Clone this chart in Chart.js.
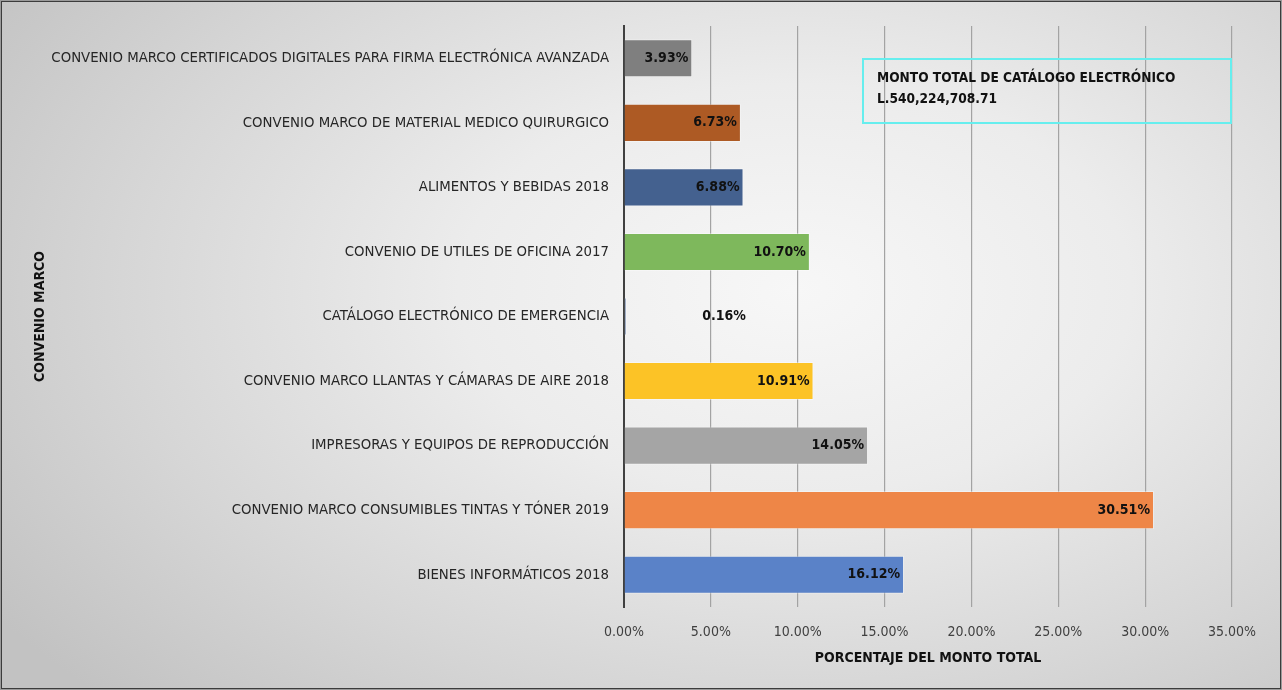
<!DOCTYPE html>
<html>
<head>
<meta charset="utf-8">
<script src="https://cdn.jsdelivr.net/npm/chart.js@4.4.1/dist/chart.umd.min.js"></script>
<style>
  html, body { margin: 0; padding: 0; }
  body { width: 1282px; height: 690px; overflow: hidden; }
  #wrap {
    position: relative; width: 1282px; height: 690px;
    background: radial-gradient(ellipse 75% 85% at 62% 42%, #f7f7f7 0%, #ececec 35%, #d6d6d6 70%, #c2c2c2 100%);
  }
  #frame {
    position: absolute; left: 0; top: 0; width: 1282px; height: 690px; box-sizing: border-box;
    border: 2px solid #3c3c3c; outline: 1px solid #9a9a9a; outline-offset: -1px; pointer-events: none;
  }
  #note {
    position: absolute; left: 862px; top: 58px; width: 370px; height: 66px; box-sizing: border-box;
    border: 2px solid #66eeee; padding: 7px 0 0 13px;
    font-family: "Liberation Sans Narrow", "DejaVu Sans Condensed", sans-serif; font-weight: bold;
    font-size: 13.6px; line-height: 21px; color: #111;
  }
  canvas { position: absolute; left: 0; top: 0; }
</style>
</head>
<body>
<div id="wrap">
  <canvas id="c" width="1282" height="690"></canvas>
  <div id="note">MONTO TOTAL DE CATÁLOGO ELECTRÓNICO<br>L.540,224,708.71</div>
  <div id="frame"></div>
</div>
<script>
const categories = [
  "CONVENIO MARCO CERTIFICADOS DIGITALES PARA FIRMA ELECTRÓNICA AVANZADA",
  "CONVENIO MARCO DE MATERIAL MEDICO QUIRURGICO",
  "ALIMENTOS Y BEBIDAS 2018",
  "CONVENIO DE UTILES DE OFICINA 2017",
  "CATÁLOGO ELECTRÓNICO DE EMERGENCIA",
  "CONVENIO MARCO LLANTAS Y CÁMARAS DE AIRE 2018",
  "IMPRESORAS Y EQUIPOS DE REPRODUCCIÓN",
  "CONVENIO MARCO CONSUMIBLES TINTAS Y TÓNER 2019",
  "BIENES INFORMÁTICOS 2018"
];
const percentages = [3.93, 6.73, 6.88, 10.70, 0.16, 10.91, 14.05, 30.51, 16.12];
const barColors = ["#7f7f7f", "#ad5a24", "#44618f", "#7eb85c", "#8a9bb8", "#fcc326", "#a5a5a5", "#ee8647", "#5a82c8"];
const xTicks = [0, 5, 10, 15, 20, 25, 30, 35];

const FONT = '"Liberation Sans Narrow", "DejaVu Sans Condensed", sans-serif';

const labelPlugin = {
  id: 'barLabels',
  afterDatasetsDraw(chart) {
    const ctx = chart.ctx;
    const meta = chart.getDatasetMeta(0);
    const xs = chart.scales.x;
    ctx.save();
    ctx.font = 'bold 14px ' + FONT;
    ctx.fillStyle = '#111';
    ctx.textBaseline = 'middle';
    meta.data.forEach((bar, i) => {
      const txt = percentages[i].toFixed(2) + '%';
      const w = ctx.measureText(txt).width;
      if (bar.x - bar.base > w + 8) {
        ctx.textAlign = 'right';
        ctx.fillText(txt, bar.x - 4, bar.y);
      } else {
        ctx.textAlign = 'left';
        ctx.fillText(txt, xs.getPixelForValue(4.5), bar.y);
      }
    });
    ctx.restore();
  }
};

new Chart(document.getElementById('c'), {
  type: 'bar',
  data: {
    labels: categories,
    datasets: [{
      data: percentages,
      backgroundColor: barColors,
      borderColor: 'rgba(255,255,255,0.35)',
      borderWidth: 1,
      borderSkipped: 'start',
      categoryPercentage: 1,
      barPercentage: 0.59
    }]
  },
  options: {
    indexAxis: 'y',
    responsive: false,
    animation: false,
    layout: { padding: { left: 28, top: 26, right: 50, bottom: 19 } },
    plugins: { legend: { display: false }, tooltip: { enabled: false } },
    scales: {
      x: {
        min: 0, max: 35,
        afterBuildTicks(s) { s.ticks = xTicks.map(v => ({ value: v })); },
        afterFit(s) { s.height = 64; },
        grid: { color: '#a3a3a3', lineWidth: 1.2, drawTicks: false },
        border: { display: false },
        ticks: {
          padding: 17,
          color: '#404040',
          font: { family: FONT, size: 14 },
          callback: v => v.toFixed(2) + '%'
        },
        title: {
          display: true, text: 'PORCENTAJE DEL MONTO TOTAL', color: '#111',
          font: { family: FONT, size: 14, weight: 'bold' }
        }
      },
      y: {
        afterFit(s) { s.width = 596; },
        grid: { display: false, drawTicks: false },
        border: { display: true, color: '#404040', width: 2 },
        ticks: {
          padding: 15,
          color: '#262626',
          font: { family: FONT, size: 14.8 }
        },
        title: {
          display: true, text: 'CONVENIO MARCO', color: '#111',
          font: { family: FONT, size: 14, weight: 'bold' }
        }
      }
    }
  },
  plugins: [labelPlugin]
});
</script>
</body>
</html>
